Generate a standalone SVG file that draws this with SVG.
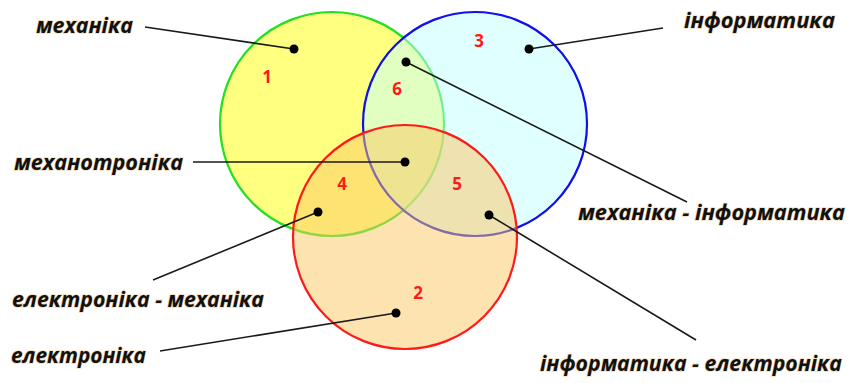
<svg xmlns="http://www.w3.org/2000/svg" width="850" height="383" viewBox="0 0 850 383">
<style>
.lbl{font-family:"Open Sans","Noto Sans",sans-serif;font-weight:bold;font-style:italic;font-size:22px;fill:#111;stroke:#e8b060;stroke-width:1.6px;stroke-opacity:0.45;paint-order:stroke}
.num{font-family:"Open Sans","Noto Sans",sans-serif;font-weight:bold;font-size:17px;fill:#ff1a1a;text-anchor:middle}
.ln{stroke:#1a1a1a;stroke-width:1.6;fill:none}
.dot{fill:#000}
</style>
<rect width="850" height="383" fill="#fff"/>
<g id="set-mechanics">
<circle cx="332" cy="124" r="112" fill="#ffff80" stroke="#22e022" stroke-width="2.2"/>
<text class="num" x="267" y="83">1</text>
</g>
<g id="set-informatics">
<circle cx="475" cy="124" r="112" fill="#c1ffff" fill-opacity="0.5" stroke="#1010e8" stroke-width="2.2"/>
<text class="num" x="479" y="47">3</text>
</g>
<g id="set-electronics">
<circle cx="405" cy="237" r="112" fill="#fbc761" fill-opacity="0.5" stroke="#ff1a1a" stroke-width="2.2"/>
<text class="num" x="418" y="299">2</text>
</g>
<g id="regions">
<text class="num" x="397" y="95">6</text>
<text class="num" x="342" y="190">4</text>
<text class="num" x="457" y="190">5</text>
</g>
<g id="connectors">
<line class="ln" x1="145" y1="27" x2="294" y2="49"/>
<line class="ln" x1="193" y1="162" x2="405" y2="162"/>
<line class="ln" x1="663" y1="28" x2="529" y2="49"/>
<line class="ln" x1="406" y1="62" x2="687" y2="202"/>
<line class="ln" x1="489" y1="215" x2="696" y2="340"/>
<line class="ln" x1="318" y1="212" x2="153" y2="280"/>
<line class="ln" x1="396" y1="313" x2="160" y2="351"/>
<circle class="dot" cx="294" cy="49" r="4.5"/>
<circle class="dot" cx="406" cy="62" r="4.5"/>
<circle class="dot" cx="405" cy="162" r="4.5"/>
<circle class="dot" cx="529" cy="49" r="4.5"/>
<circle class="dot" cx="489" cy="215" r="4.5"/>
<circle class="dot" cx="318" cy="212" r="4.5"/>
<circle class="dot" cx="396" cy="313" r="4.5"/>
</g>
<g id="label-mechanics"><text class="lbl" x="36" y="33" textLength="97" lengthAdjust="spacingAndGlyphs">механіка</text></g>
<g id="label-mechatronics"><text class="lbl" x="14" y="170" textLength="169" lengthAdjust="spacingAndGlyphs">механотроніка</text></g>
<g id="label-informatics"><text class="lbl" x="684" y="28" textLength="151" lengthAdjust="spacingAndGlyphs">інформатика</text></g>
<g id="label-mech-info"><text class="lbl" x="578" y="220" textLength="267" lengthAdjust="spacingAndGlyphs">механіка - інформатика</text></g>
<g id="label-elec-mech"><text class="lbl" x="12" y="307" textLength="252" lengthAdjust="spacingAndGlyphs">електроніка - механіка</text></g>
<g id="label-electronics"><text class="lbl" x="11" y="363" textLength="135" lengthAdjust="spacingAndGlyphs">електроніка</text></g>
<g id="label-info-elec"><text class="lbl" x="540" y="371" font-size="20" textLength="302" lengthAdjust="spacingAndGlyphs">інформатика - електроніка</text></g>
</svg>
